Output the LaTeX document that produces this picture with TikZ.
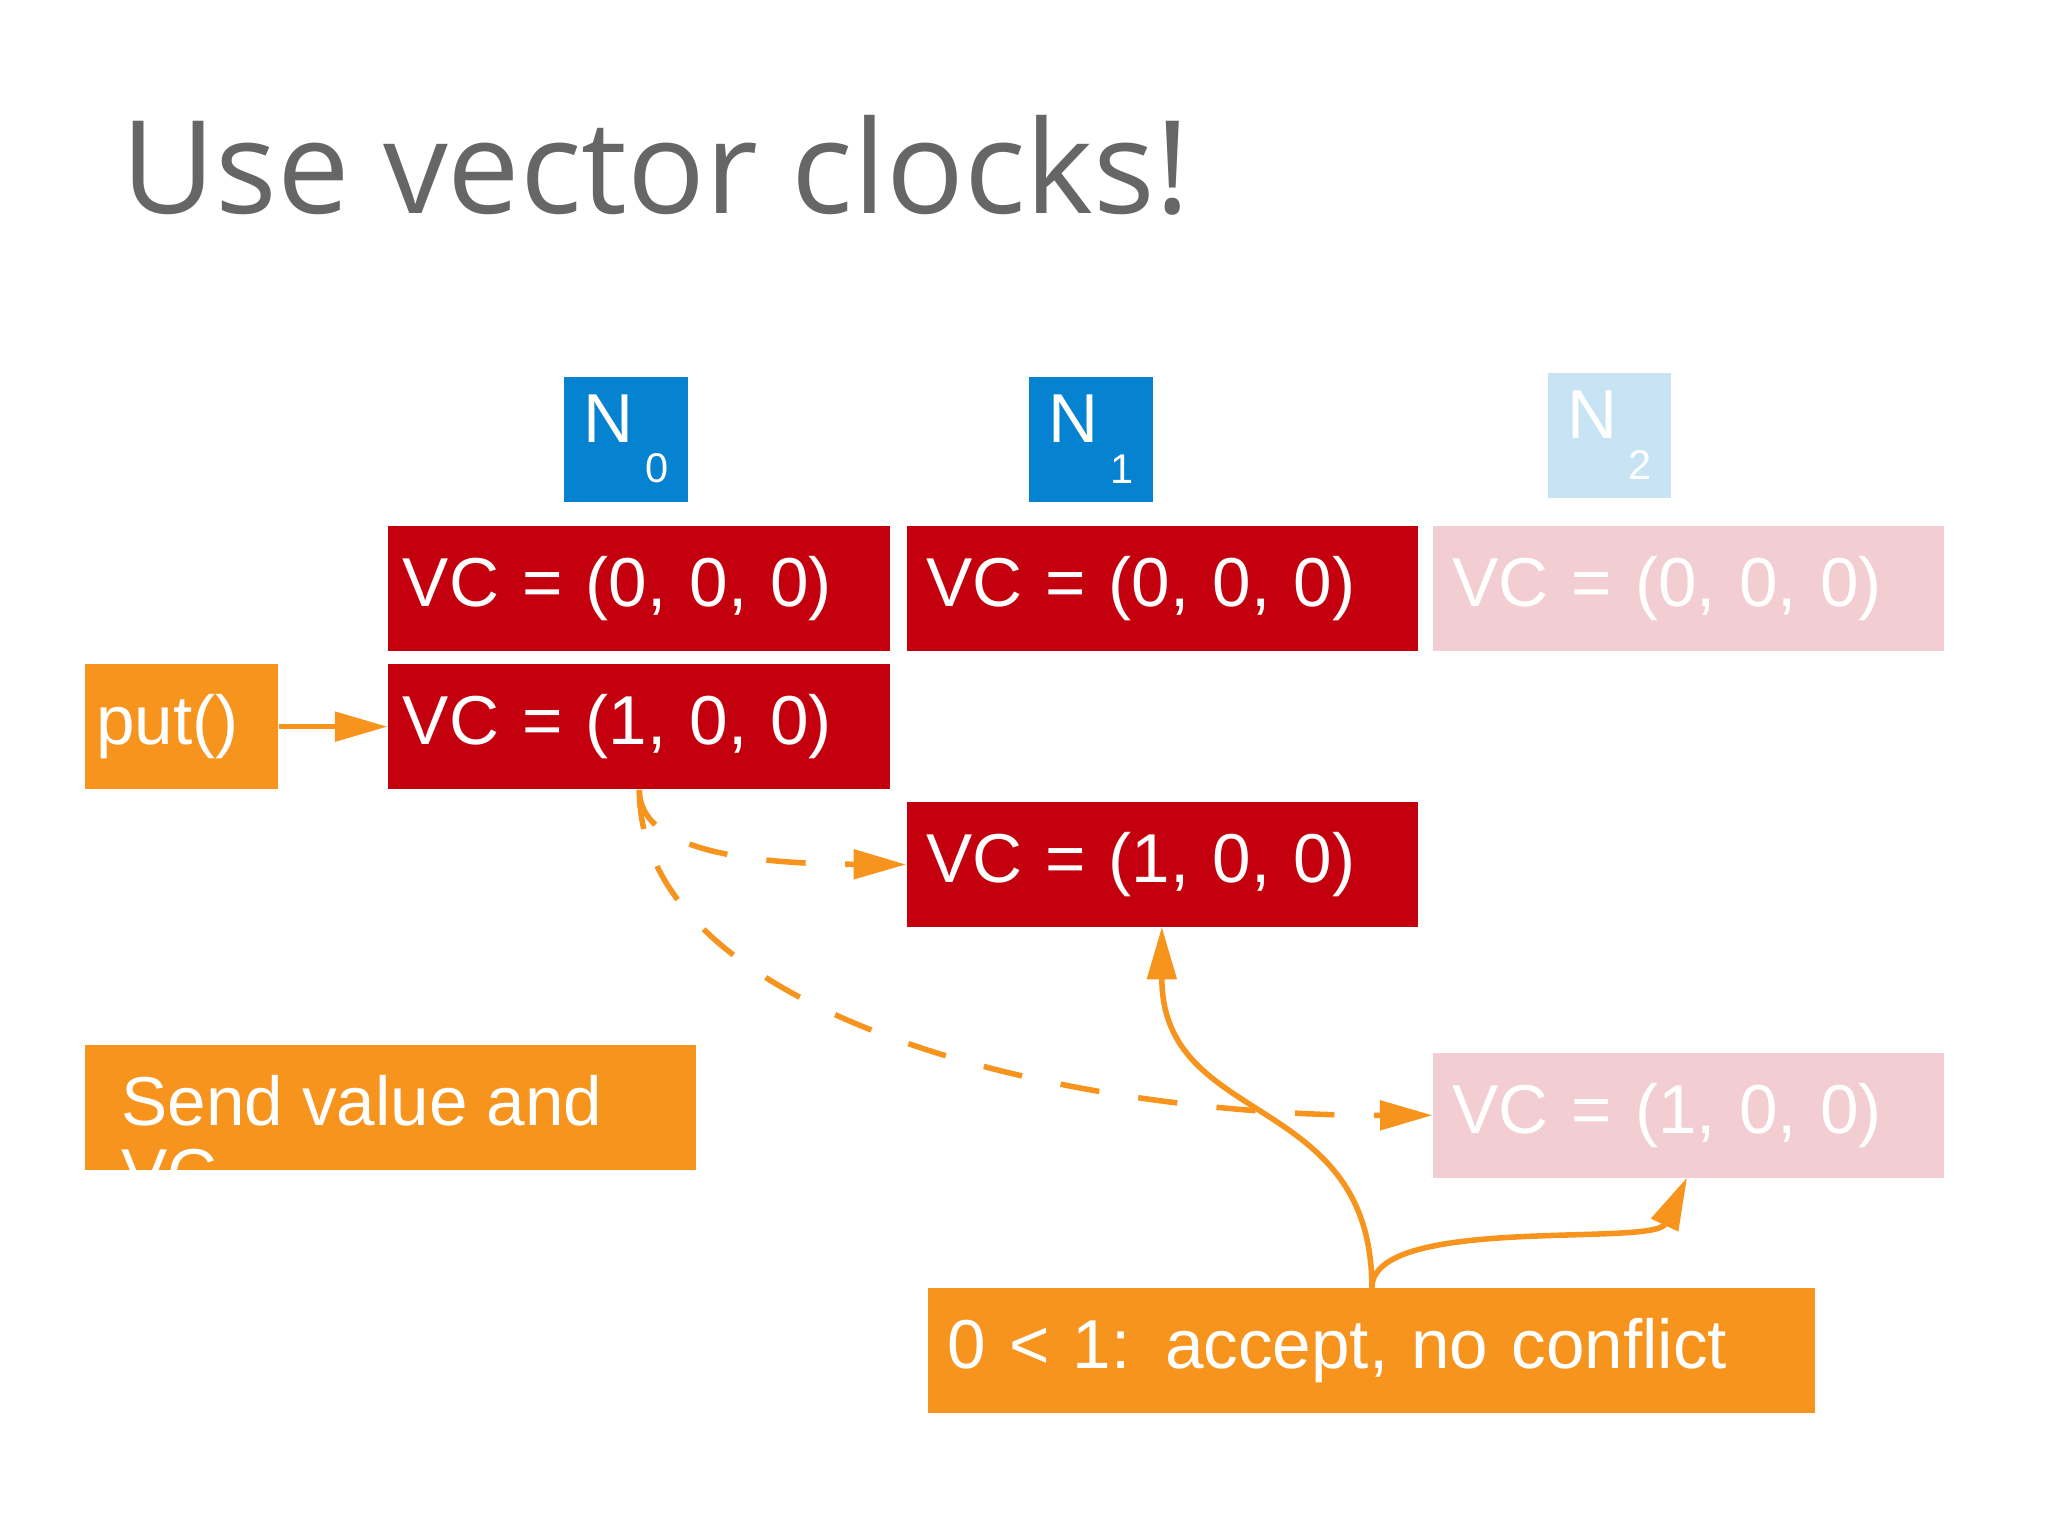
\documentclass[tikz,border=0pt]{standalone}
\usepackage{fontspec}
\setmainfont{Liberation Sans}
\newfontfamily\titlefont{Open Sans}
\usetikzlibrary{arrows.meta}
\definecolor{vcred}{HTML}{C4000F}
\definecolor{vcpink}{HTML}{F2CDD1}
\definecolor{nblue}{HTML}{0683D0}
\definecolor{nlight}{HTML}{C8E4F4}
\definecolor{orng}{HTML}{F7941D}
\definecolor{ttl}{HTML}{666666}
\begin{document}
\begin{tikzpicture}[x=0.01cm,y=-0.01cm,
  vcbox/.style={fill=vcred,text=white,minimum width=3.84cm,minimum height=0.95cm,inner sep=0pt,text width=3.6cm,align=left,font=\fontsize{15}{18}\selectfont},
  ghost/.style={vcbox,fill=vcpink},
  nbox/.style={fill=nblue,text=white,minimum width=0.94cm,minimum height=0.95cm,inner sep=0pt,font=\fontsize{15}{18}\selectfont},
  obox/.style={fill=orng,text=white,inner sep=0pt,font=\fontsize{15}{18}\selectfont},
  conn/.style={orng,line width=1.2pt,-{Triangle[length=0.4cm,width=0.22cm]}}]
\useasboundingbox (0,0) rectangle (1560,1170);
\node[anchor=base west,text=ttl,font=\titlefont\fontsize{28}{32}\selectfont] (title) at (80,163) {Use vector clocks!};
\node[nbox] (n0) at (477,334.5) {N\,\raisebox{-1.1ex}{\fontsize{9}{10}\selectfont 0}};
\node[nbox] (n1) at (831,334.5) {N\,\raisebox{-1.1ex}{\fontsize{9}{10}\selectfont 1}};
\node[nbox,fill=nlight] (n2) at (1226,331.5) {N\,\raisebox{-1.1ex}{\fontsize{9}{10}\selectfont 2}};
\node[vcbox,minimum width=3.82cm] (a0) at (487,448.5) {VC = (0, 0, 0)};
\node[vcbox,minimum width=3.89cm] (a1) at (885.5,448.5) {VC = (0, 0, 0)};
\node[ghost,minimum width=3.89cm] (a2) at (1286.5,448.5) {VC = (0, 0, 0)};
\node[vcbox,minimum width=3.82cm] (b0) at (487,553.5) {VC = (1, 0, 0)};
\node[vcbox,minimum width=3.89cm] (c1) at (885.5,658.5) {VC = (1, 0, 0)};
\node[ghost,minimum width=3.89cm] (d2) at (1286.5,849.5) {VC = (1, 0, 0)};
\node[obox,minimum width=1.47cm,minimum height=0.95cm,text width=1.3cm,align=left] (put) at (138.5,553.5) {put()};
\node[obox,minimum width=4.65cm,minimum height=0.95cm] (send) at (297.5,843.5) {};
\begin{scope}
\clip (65,796) rectangle (530,891);
\node[anchor=base west,text=white,font=\fontsize{15}{18}\selectfont] (sendt) at (80,857) {Send value and};
\node[anchor=base west,text=white,font=\fontsize{15}{18}\selectfont] (sendt2) at (80,912) {VC};
\end{scope}
\node[obox,minimum width=6.75cm,minimum height=0.95cm,text width=6.45cm,align=left] (acc) at (1044.5,1028.5) {0 < 1: accept, no conflict};
\draw[conn] (put.east) -- (b0.west);
\draw[conn,dashed,dash pattern=on 0.3cm off 0.3cm] (b0.south) .. controls (487,645) and (560,658) .. (c1.west);
\draw[conn,dashed,dash pattern=on 0.3cm off 0.3cm] (b0.south) .. controls (487,770) and (800,850) .. (d2.west);
\draw[conn] (1045,981) .. controls (1045,830) and (885,860) .. (885,706);
\draw[conn] (1045,981) .. controls (1045,925) and (1260,950) .. (1285,897);
\end{tikzpicture}
\end{document}
